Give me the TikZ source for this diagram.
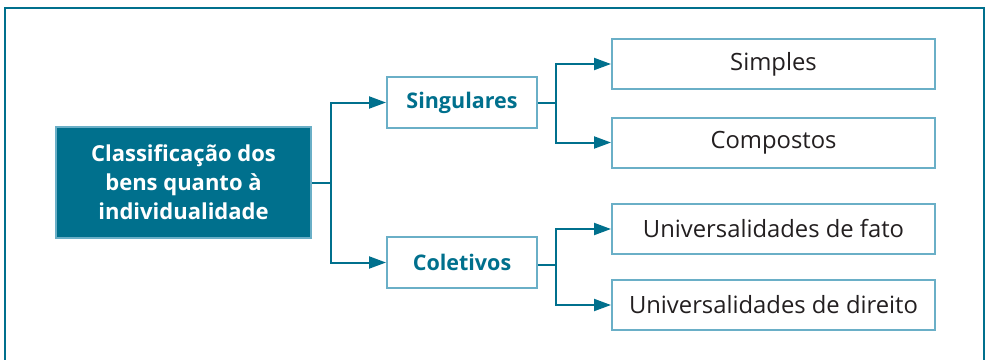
\documentclass[tikz,border=0pt]{standalone}
\usepackage{fontspec}
\setmainfont{Open Sans}
\usetikzlibrary{arrows.meta}
\definecolor{teal}{HTML}{00708D}
\definecolor{lightteal}{HTML}{6AAFC7}
\definecolor{ink}{HTML}{231F20}
\tikzset{
  frame/.style={draw=teal, line width=2.5bp},
  rootbox/.style={draw=lightteal, fill=teal, line width=2bp, text=white,
    font=\fontsize{22bp}{29bp}\selectfont\bfseries, align=center,
    minimum width=255bp, minimum height=111bp, inner sep=0pt},
  midbox/.style={draw=lightteal, fill=white, line width=2bp, text=teal,
    font=\fontsize{21.5bp}{25bp}\selectfont\bfseries,
    minimum width=150bp, minimum height=51bp, inner sep=0pt},
  leafbox/.style={draw=lightteal, fill=white, line width=2bp, text=ink,
    font=\fontsize{23.8bp}{27bp}\selectfont,
    minimum width=323bp, minimum height=50bp, inner sep=0pt},
  link/.style={draw=teal, line width=2bp},
  arrowlink/.style={link, -{Triangle[length=17bp,width=12bp]}},
}
\begin{document}
\begin{tikzpicture}[x=1bp,y=-1bp]
  \clip (0,0) rectangle (987,359);
  \fill[white] (0,0) rectangle (987,359);
  % open frame around the chart
  \draw[frame] (5,375) -- (5,8) -- (984,8) -- (984,375);

  \node[rootbox] (root) at (183.5,182.5) {Classificação dos\\bens quanto à\\individualidade};
  \node[midbox] (sing) at (462,102.5) {Singulares};
  \node[midbox] (colet) at (462,262.5) {Coletivos};
  \node[leafbox] (simp) at (773.5,64) {Simples};
  \node[leafbox] (comp) at (773.5,142.5) {Compostos};
  \node[leafbox] (ufato) at (773.5,229) {Universalidades de fato};
  \node[leafbox] (udir) at (773.5,305) {Universalidades de direito};

  % branching connectors
  \coordinate (j0) at (331,182.5);
  \coordinate (j1) at (556,102.5);
  \coordinate (j2) at (556,265);

  \draw[link] (root.east) -- (j0);
  \draw[arrowlink] (j0) |- (sing.west);
  \draw[arrowlink] (j0) |- (colet.west);

  \draw[link] (sing.east) -- (j1);
  \draw[arrowlink] (j1) |- (simp.west);
  \draw[arrowlink] (j1) |- (comp.west);

  \draw[link] (colet.east |- j2) -- (j2);
  \draw[arrowlink] (j2) |- (ufato.west);
  \draw[arrowlink] (j2) |- (udir.west);
\end{tikzpicture}
\end{document}
